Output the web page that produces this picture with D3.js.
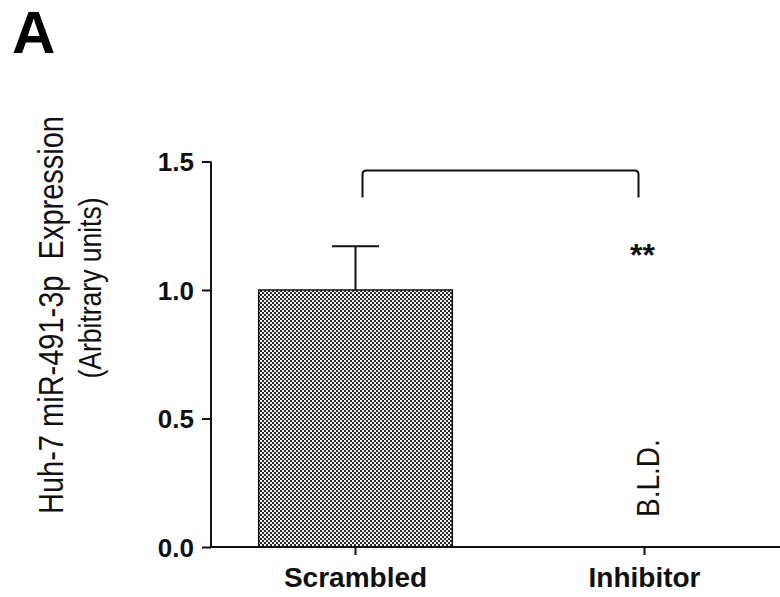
<!DOCTYPE html>
<html>
<head>
<meta charset="utf-8">
<script src="https://cdn.jsdelivr.net/npm/d3@7"></script>
<style>
  html, body { margin: 0; padding: 0; background: #fff; }
  svg { display: block; }
</style>
</head>
<body>
<svg id="chart" width="780" height="597"></svg>
<script>
// Data
const categories = ["Scrambled", "Inhibitor"];
const means = [1.0, null];          // Inhibitor below limit of detection
const errors = [0.17, null];
const yTicks = [0.0, 0.5, 1.0, 1.5];
const bracketLevels = [1.465, 1.36]; // bracket top, leg end
const significance = "**";
const bldLabel = "B.L.D.";

const svg = d3.select("#chart");
const font = "Arial, 'Liberation Sans', Helvetica, sans-serif";

const y = d3.scaleLinear().domain([0, 1.5]).range([547, 161.5]);
const x = d3.scaleBand().domain(categories).range([211, 789]).paddingInner(0.33).paddingOuter(0.165);

// checkered fill for bars
const defs = svg.append("defs");
const pat = defs.append("pattern")
  .attr("id", "checker").attr("patternUnits", "userSpaceOnUse")
  .attr("width", 4).attr("height", 4);
pat.append("rect").attr("width", 4).attr("height", 4).attr("fill", "#2a2a2a");
pat.append("rect").attr("x", 0).attr("y", 0).attr("width", 2).attr("height", 2).attr("fill", "#f2f2f2");
pat.append("rect").attr("x", 2).attr("y", 2).attr("width", 2).attr("height", 2).attr("fill", "#f2f2f2");

// panel letter
svg.append("text").attr("x", 12).attr("y", 53)
  .attr("font-family", font).attr("font-weight", "bold").attr("font-size", 60)
  .text("A");

// bars
const data = categories.map((c, i) => ({ c, m: means[i], e: errors[i] }));
const bars = data.filter(d => d.m != null);

// error bars (drawn under the bar so only the upper whisker shows)
bars.forEach(d => {
  const cx = x(d.c) + x.bandwidth() / 2;
  svg.append("line").attr("x1", cx).attr("x2", cx)
    .attr("y1", y(d.m)).attr("y2", y(d.m + d.e))
    .attr("stroke", "#111").attr("stroke-width", 2);
  svg.append("line").attr("x1", cx - 23.5).attr("x2", cx + 23.5)
    .attr("y1", y(d.m + d.e)).attr("y2", y(d.m + d.e))
    .attr("stroke", "#111").attr("stroke-width", 2);
});

svg.selectAll("rect.bar").data(bars).enter().append("rect")
  .attr("class", "bar")
  .attr("x", d => x(d.c))
  .attr("y", d => y(d.m))
  .attr("width", x.bandwidth())
  .attr("height", d => y(0) - y(d.m))
  .attr("fill", "url(#checker)")
  .attr("stroke", "#111").attr("stroke-width", 1.5);

// y axis
const yAxis = d3.axisLeft(y).tickValues(yTicks).tickFormat(d3.format(".1f")).tickSize(9).tickPadding(8);
const gy = svg.append("g").attr("transform", "translate(211,0)").call(yAxis);
gy.select(".domain").attr("stroke", "#111").attr("stroke-width", 2).attr("d", `M0,${y(1.5)}V${y(0)}`);
gy.selectAll(".tick line").attr("stroke", "#111").attr("stroke-width", 2);
gy.selectAll(".tick text").attr("font-family", font).attr("font-weight", "bold")
  .attr("font-size", 26).attr("fill", "#111").attr("dy", "0.36em");

// x axis
const xAxis = d3.axisBottom(x).tickSize(8);
const gx = svg.append("g").attr("transform", `translate(0,${y(0)})`).call(xAxis);
gx.select(".domain").attr("stroke", "#111").attr("stroke-width", 2).attr("d", "M211,0H780");
gx.selectAll(".tick line").attr("stroke", "#111").attr("stroke-width", 2);
gx.selectAll(".tick text").attr("font-family", font).attr("font-weight", "bold")
  .attr("font-size", 28).attr("fill", "#111").attr("y", 40).attr("dy", null);

// significance bracket
const xl = x(categories[0]) + x.bandwidth() / 2 + 7;
const xr = x(categories[1]) + x.bandwidth() / 2 - 6;
svg.append("path")
  .attr("d", `M${xl},${y(bracketLevels[1])}V${y(bracketLevels[0]) + 4}Q${xl},${y(bracketLevels[0])} ${xl + 4},${y(bracketLevels[0])}H${xr - 4}Q${xr},${y(bracketLevels[0])} ${xr},${y(bracketLevels[0]) + 4}V${y(bracketLevels[1])}`)
  .attr("fill", "none").attr("stroke", "#111").attr("stroke-width", 2);

const cxInh = x(categories[1]) + x.bandwidth() / 2;
svg.append("text").attr("x", cxInh - 2).attr("y", y(1.1) + 2)
  .attr("text-anchor", "middle").attr("font-family", font).attr("font-weight", "bold")
  .attr("font-size", 32).attr("fill", "#111").text(significance);

// below-detection label
svg.append("text")
  .attr("transform", `translate(${cxInh + 14},${y(0.0) - 30}) rotate(-90) scale(1,1.15)`)
  .attr("font-family", font).attr("font-size", 28).attr("fill", "#111")
  .text(bldLabel);

// y axis title (glyphs slightly tall, as in the figure's typeface)
const title = svg.append("g").attr("transform", "rotate(-90)");
title.append("text")
  .attr("transform", "translate(-315,63) scale(1,1.2)")
  .attr("text-anchor", "middle")
  .attr("font-family", font).attr("font-size", 29).attr("fill", "#111")
  .attr("xml:space", "preserve")
  .text("Huh-7 miR-491-3p  Expression");
title.append("text")
  .attr("transform", "translate(-288,101) scale(1,1.2)")
  .attr("text-anchor", "middle")
  .attr("font-family", font).attr("font-size", 26.5).attr("fill", "#111")
  .text("(Arbitrary units)");
</script>
</body>
</html>
